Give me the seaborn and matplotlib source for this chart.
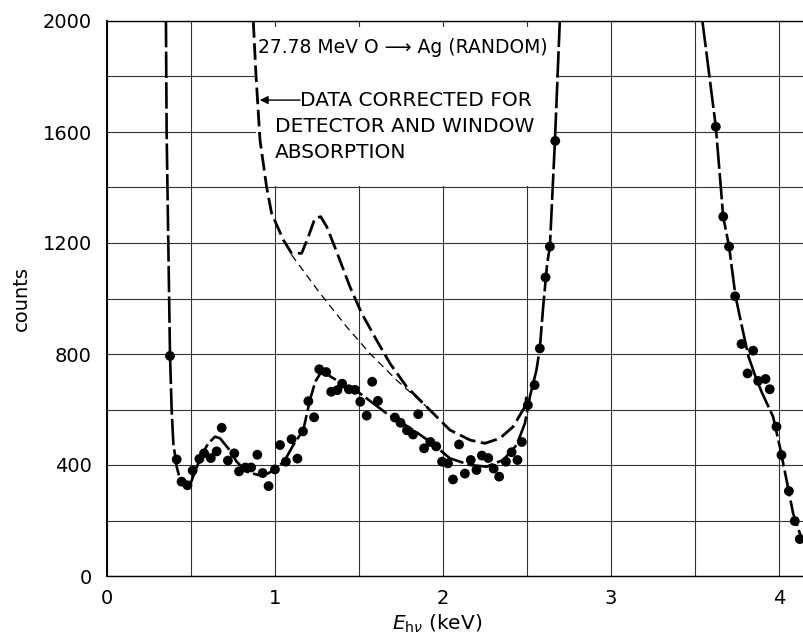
import matplotlib
matplotlib.use("Agg")
import matplotlib.pyplot as plt
import seaborn as sns
from matplotlib.patches import Rectangle
from matplotlib.ticker import MultipleLocator

# Measured spectrum (photon energy in keV, counts)
point_energy = [0.375, 0.415, 0.444, 0.479, 0.51, 0.55, 0.578, 0.618, 0.653, 0.683,
                0.72, 0.758, 0.786, 0.824, 0.858, 0.895, 0.927, 0.962, 1.0, 1.03,
                1.065, 1.099, 1.134, 1.167, 1.199, 1.233, 1.264, 1.305, 1.335, 1.372,
                1.40, 1.44, 1.476, 1.508, 1.546, 1.579, 1.613, 1.714, 1.748, 1.786,
                1.822, 1.853, 1.888, 1.925, 1.96, 1.995, 2.03, 2.06, 2.096, 2.131,
                2.166, 2.20, 2.232, 2.27, 2.302, 2.335, 2.375, 2.409, 2.444, 2.47,
                2.506, 2.546, 2.577, 2.611, 2.637, 2.669,
                3.625, 3.669, 3.704, 3.74, 3.778, 3.814, 3.847, 3.877, 3.921, 3.946,
                3.986, 4.016, 4.06, 4.095, 4.125]
point_counts = [793, 420, 340, 327, 380, 422, 442, 425, 449, 534,
                416, 442, 377, 391, 391, 437, 371, 324, 384, 472,
                412, 493, 423, 521, 630, 572, 745, 735, 664, 670,
                693, 673, 671, 628, 578, 700, 631, 571, 552, 525,
                510, 583, 460, 483, 467, 412, 406, 348, 474, 369,
                418, 382, 434, 425, 387, 358, 412, 446, 418, 483,
                616, 688, 820, 1076, 1187, 1568,
                1619, 1295, 1187, 1008, 836, 730, 812, 703, 710, 673,
                538, 436, 306, 198, 133]

# Hand-drawn fit through the measured points (low-energy branch)
fit_energy = [0.351, 0.355, 0.365, 0.375, 0.385, 0.395, 0.415, 0.435, 0.464, 0.494,
              0.524, 0.563, 0.603, 0.643, 0.673, 0.722, 0.772, 0.831, 0.90, 0.96,
              1.01, 1.06, 1.109, 1.169, 1.208, 1.24, 1.27, 1.318, 1.427, 1.506,
              1.665, 1.824, 1.923, 2.042, 2.161, 2.26, 2.359, 2.439, 2.488, 2.518,
              2.557, 2.577, 2.597, 2.621, 2.637, 2.667, 2.677, 2.696]
fit_counts = [2000, 1600, 1200, 800, 598, 478, 394, 346, 328, 328,
              376, 436, 478, 502, 496, 460, 412, 376, 364, 370,
              388, 418, 472, 526, 634, 700, 730, 724, 682, 658,
              586, 526, 484, 424, 400, 394, 418, 472, 550, 646,
              742, 820, 970, 1127, 1187, 1568, 1715, 2000]

# Fit on the high-energy side
fit2_energy = [3.545, 3.625, 3.669, 3.704, 3.742, 3.78, 3.82, 3.86, 3.90, 3.966,
               4.006, 4.046, 4.085, 4.125, 4.149]
fit2_counts = [2000, 1619, 1295, 1187, 1009, 900, 790, 720, 660, 574,
               466, 346, 226, 154, 124]

# Spectrum corrected for detector and window absorption
corr_energy = [0.871, 0.887, 0.911, 0.95, 0.98, 1.05, 1.099, 1.159, 1.199, 1.238,
               1.272, 1.308, 1.367, 1.446, 1.516, 1.605, 1.685, 1.784, 1.903, 2.042,
               2.161, 2.25, 2.339, 2.418, 2.488, 2.498]
corr_counts = [2000, 1805, 1571, 1403, 1307, 1211, 1163, 1163, 1223, 1289,
               1295, 1259, 1169, 1043, 947, 850, 766, 682, 610, 526,
               490, 478, 496, 538, 610, 646]

# Continuum under the corrected peak
base_energy = [1.099, 1.268, 1.427, 1.565, 1.724, 1.903]
base_counts = [1157, 1019, 898, 802, 706, 610]

sns.set_theme(style="white")
plt.rcParams["font.family"] = ["DejaVu Sans"]
plt.rcParams["text.color"] = "black"
plt.rcParams["axes.labelcolor"] = "black"

fig = plt.figure(figsize=(8.04, 6.38), dpi=100)
ax = fig.add_axes([107 / 804, 1 - 576 / 638, 697 / 804, 555 / 638])

ax.set_xlim(0, 4.15)
ax.set_ylim(0, 2000)
ax.xaxis.set_major_locator(MultipleLocator(1))
ax.xaxis.set_minor_locator(MultipleLocator(0.5))
ax.yaxis.set_major_locator(MultipleLocator(400))
ax.yaxis.set_minor_locator(MultipleLocator(200))
ax.set_axisbelow(True)
ax.grid(which="both", color="#333333", lw=0.8)
ax.tick_params(which="both", length=0, labelsize=14, colors="black")
ax.tick_params(axis="x", pad=9)
ax.tick_params(axis="y", pad=11)
ax.set_xticks([0, 1, 2, 3, 4])
ax.set_xticklabels(["0", "1", "2", "3", "4"])

for side in ["left", "bottom", "top"]:
    ax.spines[side].set_visible(True)
    ax.spines[side].set_color("black")
    ax.spines[side].set_linewidth(1.0)
ax.spines["left"].set_linewidth(1.4)
ax.spines["right"].set_visible(False)

# blank panel behind the annotation
ax.add_patch(Rectangle((0.89, 1405), 2.675 - 0.89, 575, facecolor="white",
                       edgecolor="none", zorder=1))

sns.lineplot(x=fit_energy, y=fit_counts, sort=False, estimator=None, color="black",
             lw=1.9, linestyle=(0, (10, 1.6)), ax=ax, zorder=3)
sns.lineplot(x=fit2_energy, y=fit2_counts, sort=False, estimator=None, color="black",
             lw=1.9, linestyle=(0, (10, 1.6)), ax=ax, zorder=3)
sns.lineplot(x=corr_energy, y=corr_counts, sort=False, estimator=None, color="black",
             lw=2.0, linestyle=(0, (6, 2)), ax=ax, zorder=3)
sns.lineplot(x=base_energy, y=base_counts, sort=False, estimator=None, color="black",
             lw=0.9, linestyle=(0, (6, 4)), ax=ax, zorder=3)
sns.scatterplot(x=point_energy, y=point_counts, color="black", s=50,
                edgecolor="none", ax=ax, zorder=4)

ax.text(0.9, 1905, "27.78 MeV O \u27f6 Ag (RANDOM)", fontsize=13.5, va="center",
        ha="left", color="black", zorder=5)
ax.text(1.15, 1715, "DATA CORRECTED FOR", fontsize=14.5, va="center", ha="left",
        color="black", zorder=5)
ax.text(1.0, 1620, "DETECTOR AND WINDOW", fontsize=14.5, va="center", ha="left",
        color="black", zorder=5)
ax.text(1.0, 1525, "ABSORPTION", fontsize=14.5, va="center", ha="left",
        color="black", zorder=5)
ax.annotate("", xy=(0.91, 1715), xytext=(1.15, 1715),
            arrowprops=dict(arrowstyle="-|>", color="black", lw=1.0,
                            mutation_scale=12, shrinkA=0, shrinkB=0), zorder=5)

ax.set_ylabel("counts", fontsize=14, color="black")
ax.yaxis.set_label_coords(-0.109, 0.5)
ax.set_xlabel(r"$E_{\mathrm{h}\nu}$ (keV)", fontsize=14.5, color="black")
ax.xaxis.set_label_coords(0.4735, -0.066)

fig.savefig("out.png", dpi=100)
